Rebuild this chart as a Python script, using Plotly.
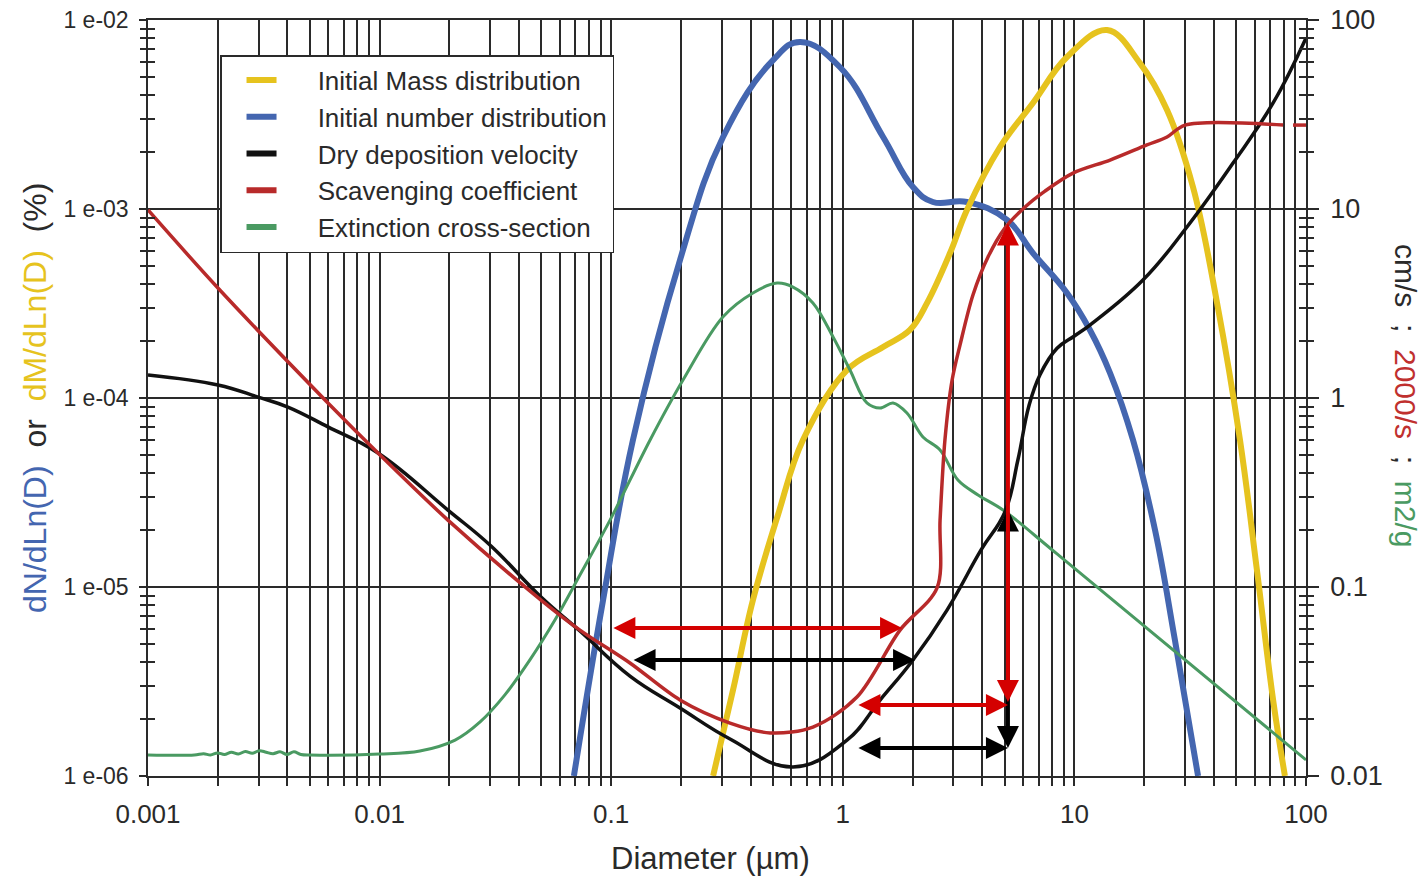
import numpy as np
import plotly.graph_objects as go

# ---------------- data (log10 of diameter in µm, log10 of value) ----------------
# Initial number distribution (left axis, dN/dLn(D))
number_logD = [-1.161, -1.035, -0.906, -0.703, -0.517, -0.301, -0.185, -0.012, 0.174, 0.303,
               0.389, 0.536, 0.709, 0.821, 0.968, 1.067, 1.154, 1.253, 1.348, 1.434, 1.534]
number_logV = [-6.0, -5.069, -4.222, -3.270, -2.619, -2.212, -2.116, -2.250, -2.619, -2.884,
               -2.963, -2.963, -3.058, -3.233, -3.444, -3.640, -3.868, -4.222, -4.698, -5.280, -6.0]

# Initial mass distribution (left axis, dM/dLn(D))
mass_logD = [-0.560, -0.474, -0.388, -0.280, -0.172, 0.018, 0.174, 0.290, 0.364, 0.463, 0.536,
             0.679, 0.821, 0.968, 1.141, 1.283, 1.400, 1.512, 1.616, 1.715, 1.788, 1.858, 1.909]
mass_logV = [-6.0, -5.545, -5.069, -4.619, -4.222, -3.852, -3.730, -3.640, -3.497, -3.233, -3.005,
             -2.672, -2.439, -2.196, -2.053, -2.228, -2.476, -2.884, -3.497, -4.222, -4.910, -5.598, -6.0]

# Dry deposition velocity (right axis, cm/s)
drydep_logD = [-3.000, -2.698, -2.525, -2.396, -2.223, -2.007, -1.705, -1.519, -1.303, -1.135,
               -0.919, -0.703, -0.487, -0.215, 0.018, 0.161, 0.303, 0.450, 0.597, 0.700,
               0.756, 0.804, 0.851, 0.925, 1.000, 1.067, 1.296, 1.486, 1.685, 1.858, 2.000]
drydep_logV = [0.122, 0.069, 0.005, -0.048, -0.153, -0.291, -0.593, -0.783, -1.053, -1.233,
               -1.471, -1.640, -1.804, -1.952, -1.810, -1.598, -1.386, -1.122, -0.804, -0.603,
               -0.328, -0.040, 0.122, 0.263, 0.328, 0.386, 0.624, 0.905, 1.243, 1.561, 1.905]

# Scavenging coefficient (right axis, 2000/s)
scav_logD = [-3.000, -2.698, -2.223, -2.007, -1.705, -1.303, -1.135, -0.919, -0.703, -0.487,
             -0.314, -0.129, 0.061, 0.247, 0.407, 0.420, 0.441, 0.472, 0.506, 0.562, 0.627,
             0.700, 0.787, 0.873, 0.994, 1.154, 1.313, 1.400, 1.478, 1.901, None, 1.944, 2.000]
scav_logV = [0.995, 0.582, -0.026, -0.291, -0.646, -1.069, -1.228, -1.402, -1.598, -1.720,
             -1.772, -1.741, -1.582, -1.228, -1.005, -0.646, -0.222, 0.095, 0.280, 0.545, 0.746,
             0.899, 1.011, 1.095, 1.190, 1.259, 1.339, 1.381, 1.444, 1.444, None, 1.444, 1.444]

# Extinction cross-section (right axis, m2/g)
ext_logD = [-3.000, -2.80, -2.76, -2.73, -2.70, -2.67, -2.64, -2.61, -2.58, -2.55, -2.52, -2.49,
            -2.46, -2.43, -2.40, -2.37, -2.34, -2.30, -2.000, -1.826, -1.674, -1.566, -1.459,
            -1.351, -1.243, -1.135, -1.005, -0.832, -0.690, -0.517, -0.388, -0.284, -0.215,
            -0.129, -0.042, 0.031, 0.104, 0.161, 0.217, 0.277, 0.346, 0.420, 0.497, 0.584,
            0.692, 0.925, 2.000]
ext_logV = [-1.889, -1.889, -1.882, -1.889, -1.878, -1.886, -1.874, -1.884, -1.870, -1.880,
            -1.866, -1.874, -1.882, -1.872, -1.886, -1.872, -1.886, -1.889, -1.884, -1.868,
            -1.810, -1.714, -1.571, -1.386, -1.175, -0.937, -0.646, -0.222, 0.095, 0.430,
            0.556, 0.608, 0.587, 0.503, 0.323, 0.148, -0.026, -0.053, -0.026, -0.079, -0.206,
            -0.275, -0.434, -0.513, -0.593, -0.825, -1.915]

# Arrow annotations (log10 D, log10 right-axis value); black first, red drawn on top
arrow_logD0 = [-0.910, 0.061, 0.713, -0.997, 0.061, 0.713]
arrow_logV0 = [-1.386, -1.852, -0.582, -1.217, -1.624, 0.931]
arrow_logD1 = [0.312, 0.713, 0.713, 0.256, 0.713, 0.713]
arrow_logV1 = [-1.386, -1.852, -1.852, -1.217, -1.624, -1.608]
arrow_colors = ["#000000", "#000000", "#000000", "#d40000", "#d40000", "#d40000"]

series_names = ["Initial Mass distribution", "Initial number distribution",
                "Dry deposition velocity", "Scavenging coefficient", "Extinction cross-section"]

# tick labels
x_decades = [0.001, 0.01, 0.1, 1, 10, 100]
x_decade_labels = ["0.001", "0.01", "0.1", "1", "10", "100"]
yl_decades = [1e-6, 1e-5, 1e-4, 1e-3, 1e-2]
yl_labels = ["1 e-06", "1 e-05", "1 e-04", "1 e-03", "1 e-02"]
yr_decades = [0.01, 0.1, 1, 10, 100]
yr_labels = ["0.01", "0.1", "1", "10", "100"]

# ---------------- styling ----------------
C_YEL = "#e6c31e"
C_BLU = "#4466b0"
C_BLK = "#111111"
C_RED = "#b82a2a"
C_GRN = "#4a9a62"
GRID = "#2a2a2a"
TXT = "#2a2a2a"
FONT = "Liberation Sans, Arial, sans-serif"


def tolin(a):
    return [None if v is None else 10 ** v for v in a]


def minor_vals(lo, hi, include_decades):
    out = []
    for k in range(lo, hi):
        for m in range(1, 10):
            if m == 1 and not include_decades:
                continue
            out.append(m * 10.0 ** k)
    if include_decades:
        out.append(10.0 ** hi)
    return out


x_ticks = minor_vals(-3, 2, True)
x_text = []
for v in x_ticks:
    lab = ""
    for d, t in zip(x_decades, x_decade_labels):
        if abs(v / d - 1) < 1e-9:
            lab = t
    x_text.append(lab)

fig = go.Figure()

fig.add_trace(go.Scatter(x=tolin(ext_logD), y=tolin(ext_logV), yaxis="y2", mode="lines",
                         line=dict(color=C_GRN, width=3, shape="spline", smoothing=1.0),
                         showlegend=False, hoverinfo="skip"))
fig.add_trace(go.Scatter(x=tolin(drydep_logD), y=tolin(drydep_logV), yaxis="y2", mode="lines",
                         line=dict(color=C_BLK, width=3.5, shape="spline", smoothing=1.2),
                         showlegend=False, hoverinfo="skip"))
fig.add_trace(go.Scatter(x=tolin(scav_logD), y=tolin(scav_logV), yaxis="y2", mode="lines",
                         line=dict(color=C_RED, width=3.5, shape="spline", smoothing=0.9),
                         connectgaps=False, showlegend=False, hoverinfo="skip"))
fig.add_trace(go.Scatter(x=tolin(number_logD), y=tolin(number_logV), mode="lines",
                         line=dict(color=C_BLU, width=6, shape="spline", smoothing=1.2),
                         showlegend=False, hoverinfo="skip"))
fig.add_trace(go.Scatter(x=tolin(mass_logD), y=tolin(mass_logV), mode="lines",
                         line=dict(color=C_YEL, width=6, shape="spline", smoothing=1.1),
                         showlegend=False, hoverinfo="skip"))

# legend-only entries
PAD = "\u00a0" * 5
for i, (nm, col) in enumerate(zip(series_names, [C_YEL, C_BLU, C_BLK, C_RED, C_GRN])):
    fig.add_trace(go.Scatter(x=[None], y=[None], mode="lines", name=PAD + nm,
                             line=dict(color=col, width=6), legendgroup=f"g{i}",
                             showlegend=True, hoverinfo="skip"))

# empty traces to materialise the minor-tick overlay axes
for ax in ["y3", "y4", "y5", "y6"]:
    fig.add_trace(go.Scatter(x=[None], y=[None], yaxis=ax, showlegend=False, hoverinfo="skip"))

# arrows
for x0, y0, x1, y1, col in zip(arrow_logD0, arrow_logV0, arrow_logD1, arrow_logV1, arrow_colors):
    fig.add_annotation(x=x1, y=y1, ax=x0, ay=y0, xref="x", yref="y2", axref="x", ayref="y2",
                       text="", showarrow=True, arrowhead=2, arrowside="end+start",
                       arrowsize=1.1, arrowwidth=4, arrowcolor=col, standoff=0, startstandoff=0)

# axis titles
fig.add_annotation(x=0.486, y=-0.1085, xref="paper", yref="paper", showarrow=False,
                   text="Diameter (µm)", font=dict(size=31, color=TXT, family=FONT),
                   xanchor="center", yanchor="middle")
fig.add_annotation(x=-0.0976, y=0.50, xref="paper", yref="paper", showarrow=False, textangle=-90,
                   text=f'<span style="color:{C_BLU}">dN/dLn(D)</span>  or  '
                        f'<span style="color:{C_YEL}">dM/dLn(D)</span>  (%)',
                   font=dict(size=32, color=TXT, family=FONT), xanchor="center", yanchor="middle")
fig.add_annotation(x=1.0855, y=0.504, xref="paper", yref="paper", showarrow=False, textangle=90,
                   text=f'cm/s  ;  <span style="color:#c0302e">2000/s</span>  ;  '
                        f'<span style="color:{C_GRN}">m2/g</span>',
                   font=dict(size=30, color=TXT, family=FONT), xanchor="center", yanchor="middle")

yl_minor = minor_vals(-6, -2, False)
yr_minor = minor_vals(-2, 2, False)

common_minor = dict(type="log", showgrid=False, showline=False, zeroline=False,
                    showticklabels=False, ticklen=7, tickwidth=1.5, tickcolor=GRID, anchor="x",
                    automargin=False)

fig.update_layout(
    width=1424, height=879,
    margin=dict(l=148, r=118, t=20, b=103, autoexpand=False),
    paper_bgcolor="white", plot_bgcolor="white",
    font=dict(family=FONT, color=TXT),
    showlegend=True,
    legend=dict(x=0.0622, y=0.9537, xanchor="left", yanchor="top",
                bgcolor="white", bordercolor=GRID, borderwidth=1.5,
                font=dict(size=26, color=TXT, family=FONT), tracegroupgap=3,
                traceorder="normal", indentation=20),
    xaxis=dict(type="log", range=[-3, 2], tickmode="array", tickvals=x_ticks, ticktext=x_text,
               ticks="outside", ticklen=8, tickwidth=1.5, tickcolor=GRID,
               showgrid=True, gridcolor=GRID, gridwidth=1.5,
               showline=True, linecolor=GRID, linewidth=1.5, mirror=True,
               tickfont=dict(size=26, color=TXT), zeroline=False, automargin=False,
               ticklabelstandoff=6),
    yaxis=dict(type="log", range=[-6, -2], tickmode="array", tickvals=yl_decades, ticktext=yl_labels,
               ticks="outside", ticklen=7, tickwidth=1.5, tickcolor=GRID,
               showgrid=True, gridcolor=GRID, gridwidth=1.5,
               showline=True, linecolor=GRID, linewidth=1.5,
               tickfont=dict(size=23, color=TXT), zeroline=False, automargin=False,
               ticklabelstandoff=6),
    yaxis2=dict(type="log", range=[-2, 2], overlaying="y", side="right", anchor="x",
                tickmode="array", tickvals=yr_decades, ticktext=yr_labels,
                ticks="outside", ticklen=11, tickwidth=1.5, tickcolor=GRID,
                showgrid=False, showline=True, linecolor=GRID, linewidth=1.5,
                tickfont=dict(size=27, color=TXT), zeroline=False, automargin=False,
                ticklabelstandoff=6),
    yaxis3=dict(range=[-6, -2], overlaying="y", side="left", tickmode="array",
                tickvals=yl_minor, ticks="outside", **common_minor),
    yaxis4=dict(range=[-6, -2], overlaying="y", side="left", tickmode="array",
                tickvals=yl_minor, ticks="inside", **common_minor),
    yaxis5=dict(range=[-2, 2], overlaying="y", side="right", tickmode="array",
                tickvals=yr_minor, ticks="outside", **common_minor),
    yaxis6=dict(range=[-2, 2], overlaying="y", side="right", tickmode="array",
                tickvals=yr_minor, ticks="inside", **common_minor),
)

fig.write_html("out.html")
